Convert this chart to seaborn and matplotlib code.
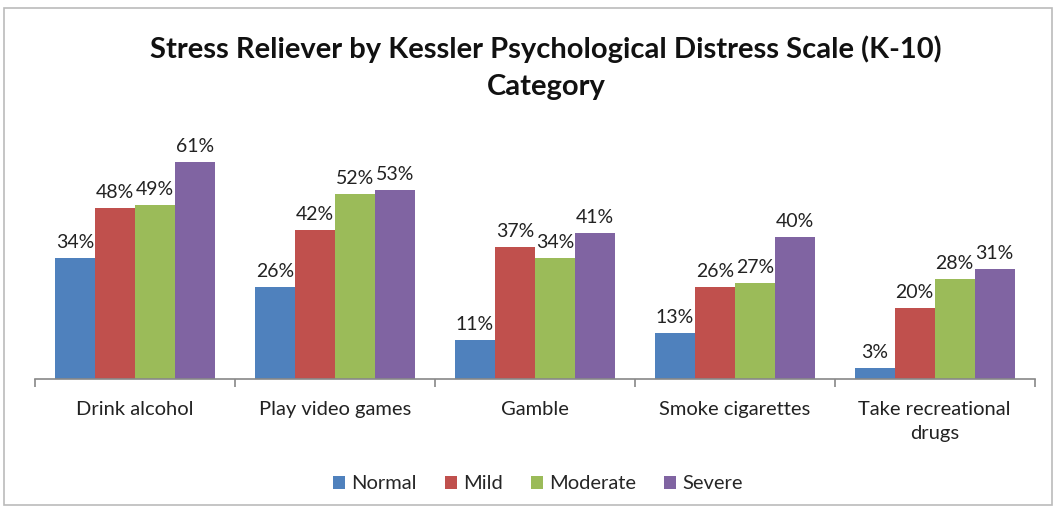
import matplotlib
matplotlib.use("Agg")
import matplotlib.pyplot as plt
import seaborn as sns
import pandas as pd
from matplotlib.patches import Rectangle

categories = ["Drink alcohol", "Play video games", "Gamble", "Smoke cigarettes", "Take recreational\ndrugs"]
series = ["Normal", "Mild", "Moderate", "Severe"]
normal = [34, 26, 11, 13, 3]
mild = [48, 42, 37, 26, 20]
moderate = [49, 52, 34, 27, 28]
severe = [61, 53, 41, 40, 31]
colors = ["#4F81BD", "#C0504D", "#9BBB59", "#8064A2"]
title = "Stress Reliever by Kessler Psychological Distress Scale (K-10)\nCategory"

rows = []
for s, vals in zip(series, [normal, mild, moderate, severe]):
    for c, v in zip(categories, vals):
        rows.append({"cat": c, "series": s, "value": v})
df = pd.DataFrame(rows)

sns.set_style("white")
plt.rcParams['font.family'] = ['Lato', 'DejaVu Sans']

fig = plt.figure(figsize=(10.58, 5.13), dpi=100)
ax = fig.add_axes([0.033, 0.261, 0.945, 0.486])
sns.barplot(data=df, x="cat", y="value", hue="series", palette=colors,
            width=0.8, saturation=1, ax=ax, legend=True, linewidth=0)
ax.set_ylim(0, 70)
ax.set_xlim(-0.5, 4.5)

for cont in ax.containers:
    labels = [f"{int(round(b.get_height()))}%" for b in cont]
    ax.bar_label(cont, labels=labels, padding=5, fontsize=14, color="#222222")

ax.set_xlabel("")
ax.set_ylabel("")
ax.set_yticks([])
for sp in ["top", "right", "left"]:
    ax.spines[sp].set_visible(False)
ax.spines["bottom"].set_color("#888888")
ax.spines["bottom"].set_linewidth(1.2)
ax.set_xticks([0, 1, 2, 3, 4])
ax.set_xticklabels(categories, fontsize=14.5, color="#222222", linespacing=1.5)
ax.tick_params(axis="x", length=0, pad=16)
ax.set_xticks([-0.5, 0.5, 1.5, 2.5, 3.5, 4.5], minor=True)
ax.tick_params(axis="x", which="minor", length=6, color="#888888", width=1.2, bottom=True, direction="out")

leg = ax.legend(loc="center", bbox_to_anchor=(0.503, -0.42), ncol=4, frameon=False,
                fontsize=14.5, handlelength=0.6, handleheight=0.6, handletextpad=0.3,
                columnspacing=1.4)

fig.text(0.516, 0.868, title, ha="center", va="center", fontsize=21, fontweight="bold",
         linespacing=1.55, color="#111111")

fig.patches.append(Rectangle((0.004, 0.015), 0.99, 0.97, transform=fig.transFigure,
                             fill=False, edgecolor="#BBBBBB", linewidth=1.2))

fig.savefig("out.png", dpi=100)
